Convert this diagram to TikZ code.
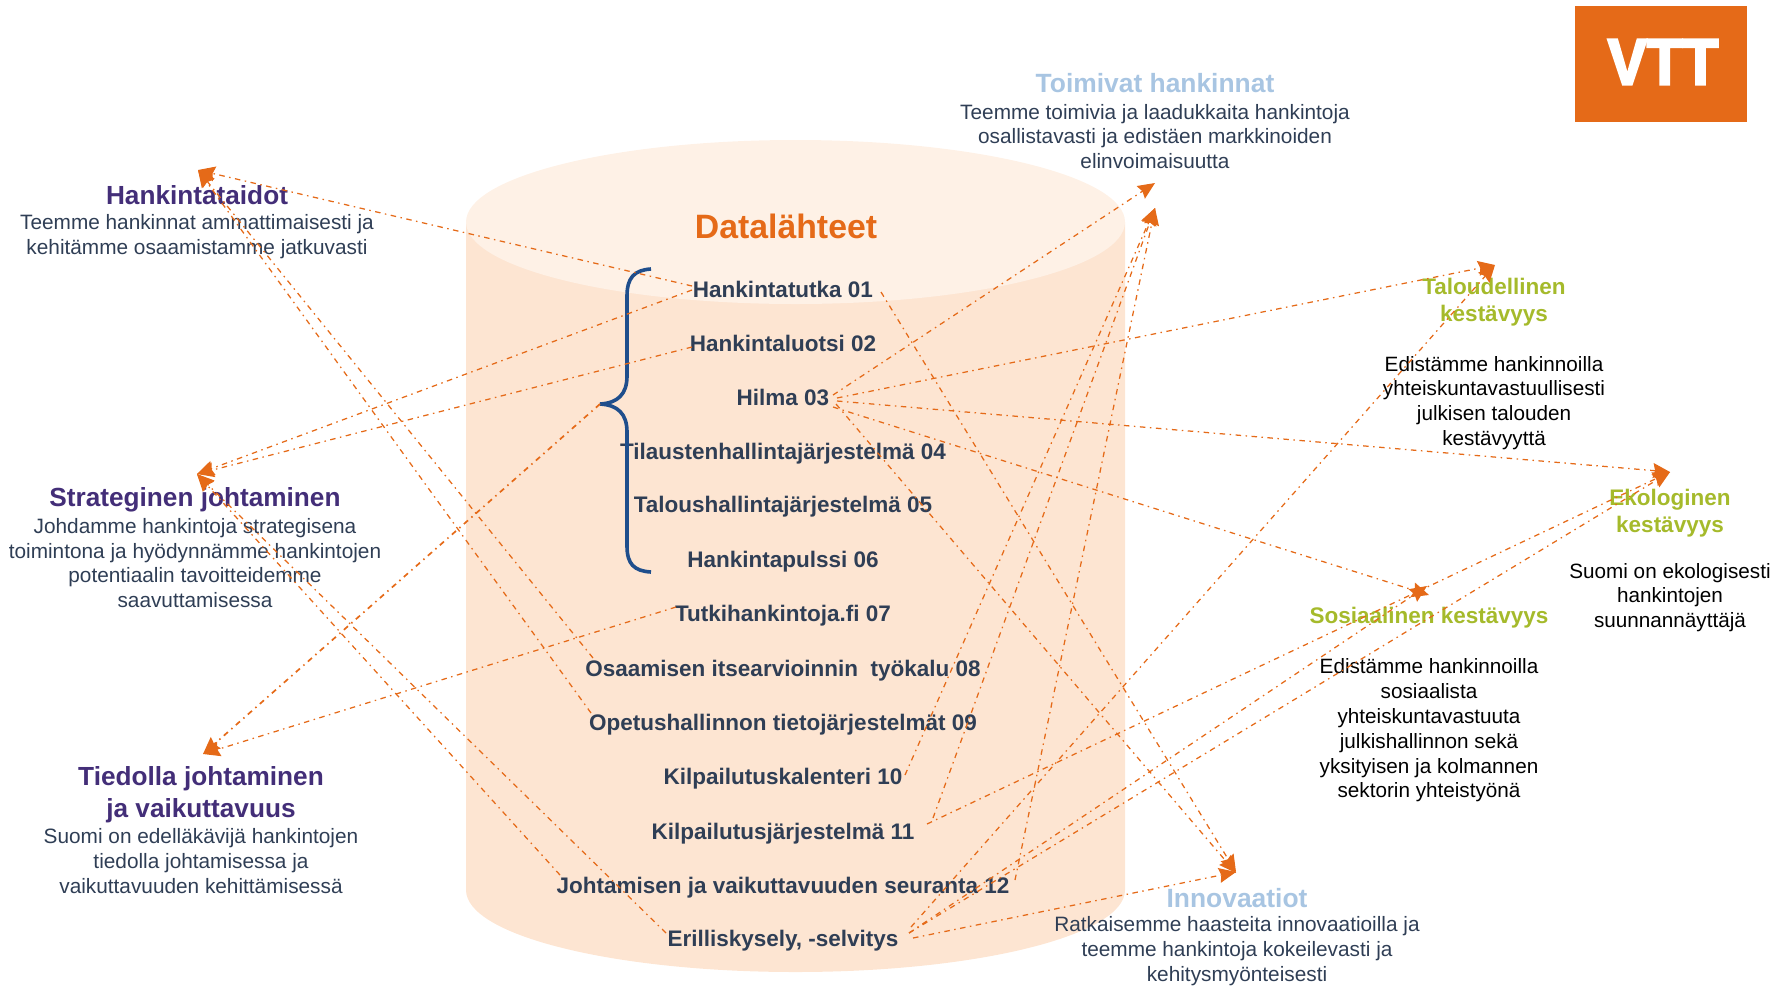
\documentclass[tikz,border=0pt]{standalone}
\usepackage{fontspec}
\setmainfont{Liberation Sans}
\usetikzlibrary{arrows.meta}
\definecolor{vttorange}{HTML}{E56A18}
\definecolor{cylbody}{HTML}{FDE5D2}
\definecolor{cyltop}{HTML}{FEF1E6}
\definecolor{purplehead}{HTML}{432E78}
\definecolor{slatetext}{HTML}{2F3E55}
\definecolor{greenhead}{HTML}{A5BA2B}
\definecolor{bluehead}{HTML}{A8C5E2}
\definecolor{bracecol}{HTML}{1F4E8C}
\tikzset{
  every node/.style={inner sep=0pt,outer sep=0pt,align=center},
  rowitem/.style={font=\fontsize{22.5}{25}\selectfont\bfseries,text=slatetext},
  purplet/.style={font=\fontsize{26.2}{32}\selectfont\bfseries,text=purplehead},
  greent/.style={font=\fontsize{22.5}{27}\selectfont\bfseries,text=greenhead},
  bluet/.style={font=\fontsize{26.4}{31}\selectfont\bfseries,text=bluehead},
  bodyt/.style={font=\fontsize{20.8}{24.8}\selectfont,text=slatetext},
  blackt/.style={font=\fontsize{20.7}{24.8}\selectfont,text=black},
  link/.style={draw=vttorange,line width=1.25pt,dash pattern=on 5.5pt off 4.5pt on 1.5pt off 4.5pt,-{Stealth[length=17pt,width=15pt,inset=2pt]}},
  linkb/.style={link,line width=1.7pt},
}
\begin{document}
\begin{tikzpicture}[x=1pt,y=-1pt]
\useasboundingbox (0,0) rectangle (1776,986);
% cylinder
\fill[cylbody] (466,222) -- (466,890) arc[start angle=180,end angle=0,x radius=329.5,y radius=82] -- (1125,222) -- cycle;
\fill[cyltop] (795.5,222) ellipse [x radius=329.5,y radius=82];
% logo
\fill[vttorange] (1575,6) rectangle (1747,122);
\node[text=white,font=\fontsize{65}{65}\selectfont\bfseries\addfontfeature{FakeBold=4},xscale=.9,transform shape] (logo) at (1663,62) {VTT};
% title
\node[font=\fontsize{33.8}{36}\selectfont\bfseries,text=vttorange] (title) at (786,226) {Datalähteet};
% rows
\node[rowitem] (r01) at (783,289) {Hankintatutka 01};
\node[rowitem] (r02) at (783,343) {Hankintaluotsi 02};
\node[rowitem] (r03) at (783,397) {Hilma 03};
\node[rowitem] (r04) at (783,454) {Tilaustenhallintajärjestelmä 04};
\node[rowitem] (r05) at (783,507) {Taloushallintajärjestelmä 05};
\node[rowitem] (r06) at (783,562) {Hankintapulssi 06};
\node[rowitem] (r07) at (783,616) {Tutkihankintoja.fi 07};
\node[rowitem] (r08) at (783,671) {Osaamisen itsearvioinnin\ \ työkalu 08};
\node[rowitem] (r09) at (783,725) {Opetushallinnon tietojärjestelmät 09};
\node[rowitem] (r10) at (783,779) {Kilpailutuskalenteri 10};
\node[rowitem] (r11) at (783,834) {Kilpailutusjärjestelmä 11};
\node[rowitem] (r12) at (783,888) {Johtamisen ja vaikuttavuuden seuranta 12};
\node[rowitem] (r13) at (783,941) {Erilliskysely, -selvitys};
% brace
\coordinate (bracetip) at (600,404);
\draw[bracecol,line width=3.6pt] (651,269) .. controls (634,270) and (627,278) .. (627,296) -- (627,376) .. controls (627,394) and (618,403) .. (bracetip) .. controls (618,405) and (627,414) .. (627,432) -- (627,546) .. controls (627,564) and (634,571) .. (651,572);
% left blocks
\node[purplet] (h1) at (197,195) {Hankintataidot};
\node[bodyt] (b1) at (197,237) {Teemme hankinnat ammattimaisesti ja\\kehitämme osaamistamme jatkuvasti};
\node[purplet] (h2) at (195,500) {Strateginen johtaminen};
\node[bodyt] (b2) at (195,563) {Johdamme hankintoja strategisena\\toimintona ja hyödynnämme hankintojen\\potentiaalin tavoitteidemme\\saavuttamisessa};
\node[purplet] (h3) at (201,794.5) {Tiedolla johtaminen\\ja vaikuttavuus};
\node[bodyt] (b3) at (201,861) {Suomi on edelläkävijä hankintojen\\tiedolla johtamisessa ja\\vaikuttavuuden kehittämisessä};
% top & bottom blue blocks
\node[bluet] (h4) at (1155,83) {Toimivat hankinnat};
\node[bodyt] (b4) at (1155,136.5) {Teemme toimivia ja laadukkaita hankintoja\\osallistavasti ja edistäen markkinoiden\\elinvoimaisuutta};
\node[bluet] (h5) at (1237,898) {Innovaatiot};
\node[bodyt] (b5) at (1237,951) {Ratkaisemme haasteita innovaatioilla ja\\teemme hankintoja kokeilevasti ja\\kehitysmyönteisesti};
% green blocks
\node[greent] (h6) at (1494,302) {Taloudellinen\\kestävyys};
\node[blackt] (b6) at (1494,403) {Edistämme hankinnoilla\\yhteiskuntavastuullisesti\\julkisen talouden\\kestävyyttä};
\node[greent] (h7) at (1670,513) {Ekologinen\\kestävyys};
\node[blackt] (b7) at (1670,597.5) {Suomi on ekologisesti\\hankintojen\\suunnannäyttäjä};
\node[greent] (h8) at (1429,618) {Sosiaalinen kestävyys};
\node[blackt] (b8) at (1429,730.5) {Edistämme hankinnoilla\\sosiaalista\\yhteiskuntavastuuta\\julkishallinnon sekä\\yksityisen ja kolmannen\\sektorin yhteistyönä};
% arrow targets
\coordinate (tA) at (198,170);
\coordinate (tB) at (197,474);
\coordinate (tC) at (203,754);
\coordinate (tD) at (1155,183);
\coordinate (tDb) at (1155,208);
\coordinate (tE) at (1495,265);
\coordinate (tF) at (1670,472);
\coordinate (tG) at (1429,595);
\coordinate (tGb) at (1427,586);
\coordinate (tH) at (1236,872);
\coordinate (tHb) at (1236,873);
% source ends
\coordinate (s01l) at (692,286);
\coordinate (s01m) at (692,290);
\coordinate (s01r) at (881,292);
\coordinate (s02l) at (692,347);
\coordinate (s03a) at (833,395);
\coordinate (s03b) at (837,398);
\coordinate (s03c) at (837,401);
\coordinate (s03d) at (833,407);
\coordinate (s03e) at (836,404);
\coordinate (s07l) at (676,607);
\coordinate (s08l) at (593,658);
\coordinate (s09l) at (591,713);
\coordinate (s10r) at (905,775);
\coordinate (s11a) at (933,818);
\coordinate (s11b) at (927,824);
\coordinate (s12l) at (560,875);
\coordinate (s12r) at (1015,880);
\coordinate (s13l) at (666,933);
\coordinate (s13a) at (911,927);
\coordinate (s13b) at (909,933);
\coordinate (s13c) at (913,938);
% connectors
\draw[link] (s01l) -- (tA);
\draw[link] (s08l) -- (tA);
\draw[link] (s09l) -- (tA);
\draw[link] (s01m) -- (tB);
\draw[link] (s02l) -- (tB);
\draw[link] (s12l) -- (tB);
\draw[link] (s13l) -- (tB);
\draw[linkb] (bracetip) -- (tC);
\draw[link] (s07l) -- (tC);
\draw[link] (s03a) -- (tD);
\draw[link] (s10r) -- (tDb);
\draw[link] (s11a) -- (tDb);
\draw[link] (s12r) -- (tDb);
\draw[link] (s03b) -- (tE);
\draw[link] (s13a) -- (tE);
\draw[link] (s03c) -- (tF);
\draw[link] (s11b) -- (tF);
\draw[link] (s13b) -- (tF);
\draw[link] (s03d) -- (tG);
\draw[link] (s13b) -- (tGb);
\draw[link] (s01r) -- (tH);
\draw[link] (s03e) -- (tHb);
\draw[link] (s13c) -- (tH);
\end{tikzpicture}
\end{document}
